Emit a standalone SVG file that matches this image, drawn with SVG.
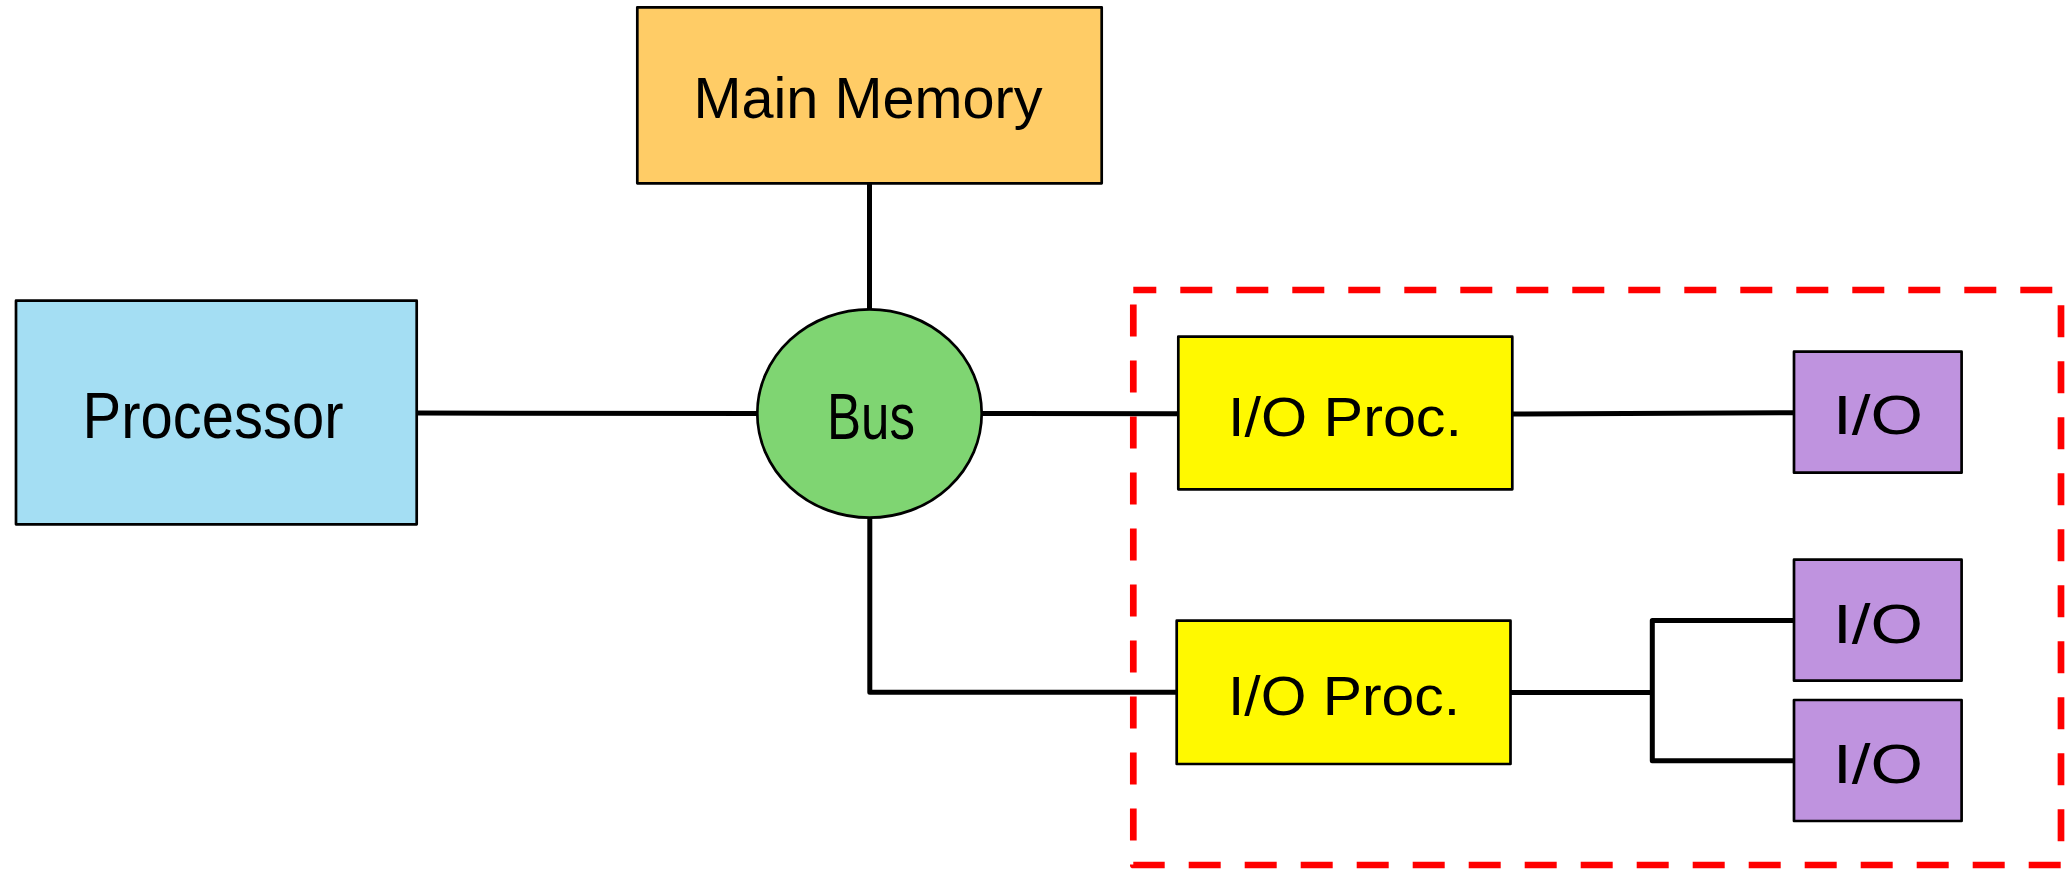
<svg xmlns="http://www.w3.org/2000/svg" width="2065" height="869" viewBox="0 0 2065 869">
  <style>
    .box { stroke: #000; stroke-width: 2.7; stroke-linejoin: round; }
    .wire { fill: none; stroke: #000; stroke-width: 5; stroke-linejoin: round; stroke-linecap: butt; }
    .label { font-family: "Liberation Sans", Arial, sans-serif; fill: #000; text-anchor: middle; }
    .group-frame { fill: none; stroke: #FF0000; stroke-width: 6.7; stroke-dasharray: 32 24; stroke-dashoffset: 9; stroke-linejoin: round; }
  </style>

  <!-- I/O subsystem boundary -->
  <path class="group-frame" d="M1133.3,290 H2061 V865 H1133.3 Z"/>

  <!-- connectors -->
  <g id="connectors">
    <path class="wire" d="M869.5,183.3 V309.3"/>
    <path class="wire" d="M416.7,413 L757.3,413.5"/>
    <path class="wire" d="M981.7,413.5 L1178.3,413.8"/>
    <path class="wire" d="M869.8,517.7 V692.3 H1176.7"/>
    <path class="wire" d="M1512.3,414 L1794,412.7"/>
    <path class="wire" d="M1510.5,692.5 H1652.3"/>
    <path class="wire" d="M1794,620.5 H1652.3 V760.8 H1794"/>
  </g>

  <g id="main-memory">
    <rect class="box" x="637.3" y="7.3" width="464.4" height="176" fill="#FFCC66"/>
    <text class="label" x="868" y="118" font-size="57" textLength="349" lengthAdjust="spacingAndGlyphs">Main Memory</text>
  </g>

  <g id="processor">
    <rect class="box" x="16" y="300.7" width="400.7" height="223.6" fill="#A4DEF3"/>
    <text class="label" x="213" y="438.3" font-size="65" textLength="261" lengthAdjust="spacingAndGlyphs">Processor</text>
  </g>

  <g id="bus">
    <ellipse class="box" cx="869.5" cy="413.5" rx="112.2" ry="104.2" fill="#7FD572"/>
    <text class="label" x="871" y="439.3" font-size="64" textLength="88" lengthAdjust="spacingAndGlyphs">Bus</text>
  </g>

  <g id="io-proc-1">
    <rect class="box" x="1178.3" y="336.7" width="334" height="152.6" fill="#FFF900"/>
    <text class="label" x="1345" y="435.7" font-size="56" textLength="234" lengthAdjust="spacingAndGlyphs">I/O Proc.</text>
  </g>

  <g id="io-proc-2">
    <rect class="box" x="1176.7" y="620.7" width="333.8" height="143.3" fill="#FFF900"/>
    <text class="label" x="1344" y="715" font-size="56" textLength="232" lengthAdjust="spacingAndGlyphs">I/O Proc.</text>
  </g>

  <g id="io-1">
    <rect class="box" x="1794" y="351.7" width="167.6" height="121" fill="#BF93DF"/>
    <text class="label" x="1878" y="434" font-size="55" textLength="90" lengthAdjust="spacingAndGlyphs">I/O</text>
  </g>

  <g id="io-2">
    <rect class="box" x="1794" y="559.7" width="167.6" height="121" fill="#BF93DF"/>
    <text class="label" x="1878" y="642.7" font-size="55" textLength="90" lengthAdjust="spacingAndGlyphs">I/O</text>
  </g>

  <g id="io-3">
    <rect class="box" x="1794" y="700" width="167.6" height="121" fill="#BF93DF"/>
    <text class="label" x="1878" y="783.3" font-size="55" textLength="90" lengthAdjust="spacingAndGlyphs">I/O</text>
  </g>
</svg>
